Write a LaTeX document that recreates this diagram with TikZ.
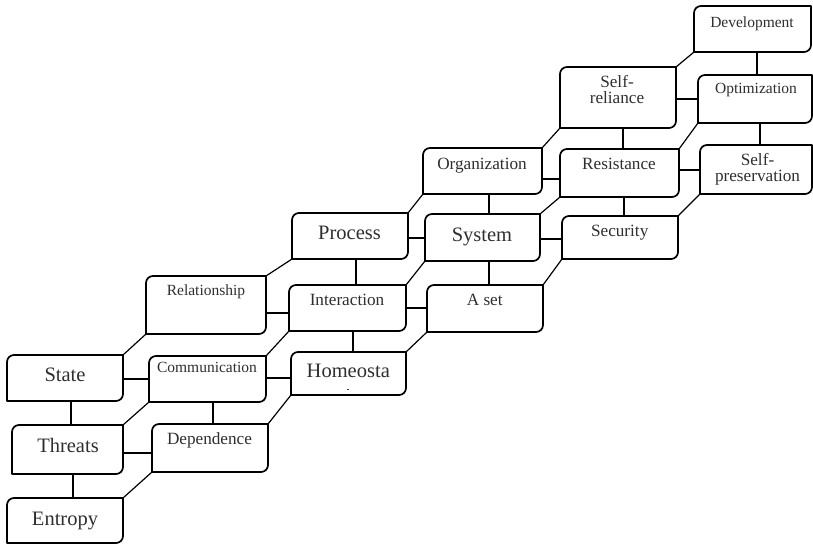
\documentclass[tikz,border=0pt]{standalone}
\usepackage{fontspec}
\setmainfont{Liberation Serif}
\usetikzlibrary{fit}

\tikzset{
  cell/.style={inner sep=0pt, outer sep=0pt, draw=none},
  boxline/.style={line width=1.7pt, line join=round},
  link/.style={line width=1.2pt},
  lbl/.style={anchor=base, inner sep=0pt, text=black!82, align=center},
  big/.style={font=\fontsize{20.5}{22}\selectfont},
  mid/.style={font=\fontsize{17.2}{15.6}\selectfont},
  small/.style={font=\fontsize{15.5}{17}\selectfont},
}

% A step box: rounded at top-left and bottom-right, square elsewhere
\newcommand\stairbox[5]{%
  \node[cell, fit={(#2,#3) (#4,#5)}] (#1) {};
  \draw[boxline] (#1.north east) -- ([xshift=7pt]#1.north west)
    arc[start angle=90, end angle=180, radius=7pt]
    -- (#1.south west) -- ([xshift=-7pt]#1.south east)
    arc[start angle=270, end angle=360, radius=7pt] -- cycle;}

\begin{document}
\begin{tikzpicture}[x=1pt, y=-1pt]
\useasboundingbox (0,0) rectangle (813,544);

% boxes
\stairbox{state}{7}{355}{123}{401}
\stairbox{threats}{12}{425}{123}{474}
\stairbox{entropy}{7}{498}{123}{543}
\stairbox{relat}{146}{276}{266}{334}
\stairbox{comm}{149}{356}{266}{402}
\stairbox{depend}{152}{424}{268}{472}
\stairbox{process}{292}{213}{408}{259}
\stairbox{interact}{289}{285}{406}{331}
\stairbox{homeo}{291}{352}{406}{395}
\stairbox{org}{423}{148}{542}{194}
\stairbox{system}{425}{214}{540}{261}
\stairbox{aset}{427}{285}{543}{332}
\stairbox{sreliance}{560}{67}{676}{128}
\stairbox{resist}{560}{149}{679}{197}
\stairbox{secur}{562}{216}{678}{259}
\stairbox{devel}{694}{6}{811}{52}
\stairbox{optim}{698}{75}{812}{123}
\stairbox{spres}{700}{145}{812}{194}

% labels (base = baseline of the last line)
\node[lbl,big] (state-t) at (65,381.7) {State};
\node[lbl,big] (threats-t) at (68,452.3) {Threats};
\node[lbl,big] (entropy-t) at (65,525.3) {Entropy};
\node[lbl,small] (relat-t) at (206,295) {Relationship};
\node[lbl,small] (comm-t) at (207,372.3) {Communication};
\node[lbl,mid] (depend-t) at (209.5,444.3) {Dependence};
\node[lbl,big] (process-t) at (349.5,239) {Process};
\node[lbl,mid] (interact-t) at (347,305) {Interaction};
\node[lbl,big] (homeo-t) at (348.3,377.5) {Homeosta};
\coordinate (homeo-d) at (348,389.5);
\fill[black!75] ([shift={(-0.9pt,-0.8pt)}]homeo-d) rectangle ([shift={(0.9pt,0.8pt)}]homeo-d);
\node[lbl,big] (system-t) at (482,241) {System};
\node[lbl,mid] (org-t) at (482,169.3) {Organization};
\node[lbl,mid] (aset-t) at (484.7,305.5) {A set};
\node[lbl,mid] (sreliance-t) at (617,103) {Self-\\reliance};
\node[lbl,mid] (resist-t) at (619,169.3) {Resistance};
\node[lbl,mid] (secur-t) at (619.7,236.7) {Security};
\node[lbl,small] (devel-t) at (752,27.7) {Development};
\node[lbl,small] (optim-t) at (756,93) {Optimization};
\node[lbl,mid] (spres-t) at (757.5,181) {Self-\\preservation};

% vertical links
\draw[link] (71,0 |- state.south) -- (71,0 |- threats.north);
\draw[link] (73,0 |- threats.south) -- (73,0 |- entropy.north);
\draw[link] (213,0 |- comm.south) -- (213,0 |- depend.north);
\draw[link] (356,0 |- process.south) -- (356,0 |- interact.north);
\draw[link] (353,0 |- interact.south) -- (353,0 |- homeo.north);
\draw[link] (489,0 |- org.south) -- (489,0 |- system.north);
\draw[link] (489,0 |- system.south) -- (489,0 |- aset.north);
\draw[link] (623,0 |- sreliance.south) -- (623,0 |- resist.north);
\draw[link] (624,0 |- resist.south) -- (624,0 |- secur.north);
\draw[link] (757,0 |- devel.south) -- (757,0 |- optim.north);
\draw[link] (760,0 |- optim.south) -- (760,0 |- spres.north);

% horizontal links
\draw[link] (state.east |- 0,379) -- (comm.west |- 0,379);
\draw[link] (threats.east |- 0,453) -- (depend.west |- 0,453);
\draw[link] (relat.east |- 0,313) -- (interact.west |- 0,313);
\draw[link] (comm.east |- 0,378) -- (homeo.west |- 0,378);
\draw[link] (process.east |- 0,238) -- (system.west |- 0,238);
\draw[link] (interact.east |- 0,308) -- (aset.west |- 0,308);
\draw[link] (org.east |- 0,179) -- (resist.west |- 0,179);
\draw[link] (system.east |- 0,239) -- (secur.west |- 0,239);
\draw[link] (sreliance.east |- 0,99) -- (optim.west |- 0,99);
\draw[link] (resist.east |- 0,170) -- (spres.west |- 0,170);

% diagonal links
\foreach \a/\b in {state/relat, threats/comm, entropy/depend,
  depend/homeo, comm/interact, relat/process, process/org,
  interact/system, homeo/aset, org/sreliance, system/resist,
  aset/secur, sreliance/devel, resist/optim, secur/spres}
  \draw[link] (\a.north east) -- (\b.south west);
\end{tikzpicture}
\end{document}
